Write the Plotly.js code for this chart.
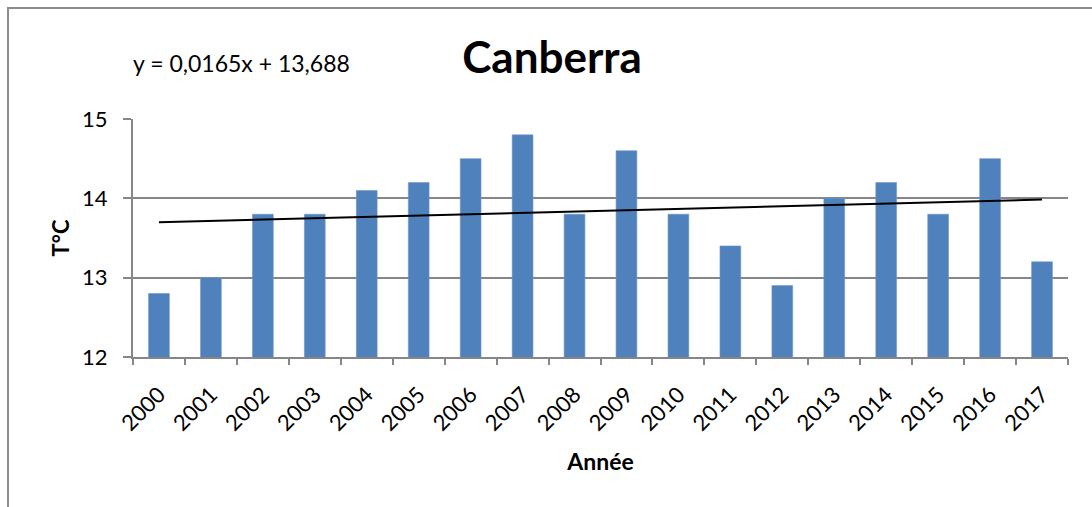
<!DOCTYPE html>
<html>
<head>
<meta charset="utf-8">
<script src="https://cdn.plot.ly/plotly-3.0.1.min.js"></script>
<style>
  html, body { margin: 0; padding: 0; background: #ffffff; overflow: hidden; }
  #frame { position: absolute; left: 7px; top: 7px; width: 1200px; height: 600px;
           border-left: 2px solid #8c8c8c; border-top: 2px solid #8c8c8c; }
  #chart { position: absolute; left: 0; top: 0; width: 1092px; height: 507px; }
</style>
</head>
<body>
<div id="frame"></div>
<div id="chart"></div>
<script>
const years = ['2000','2001','2002','2003','2004','2005','2006','2007','2008',
               '2009','2010','2011','2012','2013','2014','2015','2016','2017'];
const temps = [12.8, 13.0, 13.8, 13.8, 14.1, 14.2, 14.5, 14.8, 13.8,
               14.6, 13.8, 13.4, 12.9, 14.0, 14.2, 13.8, 14.5, 13.2];
const trendYears = ['2000', '2017'];
const trendValues = [13.70, 13.985];
const titleText = 'Canberra';
const equationText = 'y = 0,0165x + 13,688';
const xTitle = 'Année';
const yTitle = 'T°C';

const FONT = 'Lato, "Open Sans", sans-serif';

const data = [
  {
    type: 'bar',
    x: years,
    y: temps,
    marker: { color: '#4F81BD', line: { color: '#6f97c9', width: 0.6 } },
    hoverinfo: 'x+y',
    showlegend: false
  },
  {
    type: 'scatter',
    mode: 'lines',
    x: trendYears,
    y: trendValues,
    line: { color: '#000000', width: 2 },
    hoverinfo: 'skip',
    showlegend: false
  }
];

const layout = {
  width: 1092,
  height: 507,
  margin: { l: 133, r: 24, t: 119, b: 150 },
  paper_bgcolor: 'rgba(0,0,0,0)',
  plot_bgcolor: 'rgba(0,0,0,0)',
  font: { family: FONT, color: '#000000', size: 22 },
  bargap: 0.6,
  title: {
    text: '<b>' + titleText + '</b>',
    font: { family: FONT, size: 44, color: '#000000' },
    x: 552 / 1092, xref: 'container', xanchor: 'center',
    y: 1 - 58 / 507, yref: 'container', yanchor: 'middle'
  },
  xaxis: {
    type: 'category',
    categoryorder: 'array',
    categoryarray: years,
    tickson: 'boundaries',
    ticks: 'outside',
    ticklen: 6,
    tickwidth: 2,
    tickcolor: '#868686',
    showline: true,
    linecolor: '#868686',
    linewidth: 2,
    showgrid: false,
    tickangle: -45,
    ticklabelstandoff: 14,
    tickfont: { family: FONT, size: 22, color: '#000000' },
    title: { text: '<b>' + xTitle + '</b>', font: { family: FONT, size: 23, color: '#000000' }, standoff: 19 },
    fixedrange: true
  },
  yaxis: {
    range: [12, 15],
    tickvals: [12, 13, 14, 15],
    ticks: 'outside',
    ticklen: 8,
    tickwidth: 2,
    tickcolor: '#868686',
    showline: true,
    linecolor: '#868686',
    linewidth: 2,
    showgrid: true,
    gridcolor: '#868686',
    gridwidth: 2,
    zeroline: false,
    ticklabelstandoff: 11,
    tickfont: { family: FONT, size: 22, color: '#000000' },
    title: { text: '<b>' + yTitle + '</b>', font: { family: FONT, size: 22, color: '#000000' }, standoff: 6 },
    fixedrange: true
  },
  annotations: [
    {
      text: equationText,
      xref: 'paper', yref: 'paper',
      x: (241 - 133) / (1068 - 133), y: (357 - 63) / (357 - 119),
      xanchor: 'center', yanchor: 'middle',
      showarrow: false,
      font: { family: FONT, size: 23, color: '#000000' }
    }
  ]
};

Plotly.newPlot('chart', data, layout, { displayModeBar: false, staticPlot: true });
</script>
</body>
</html>
